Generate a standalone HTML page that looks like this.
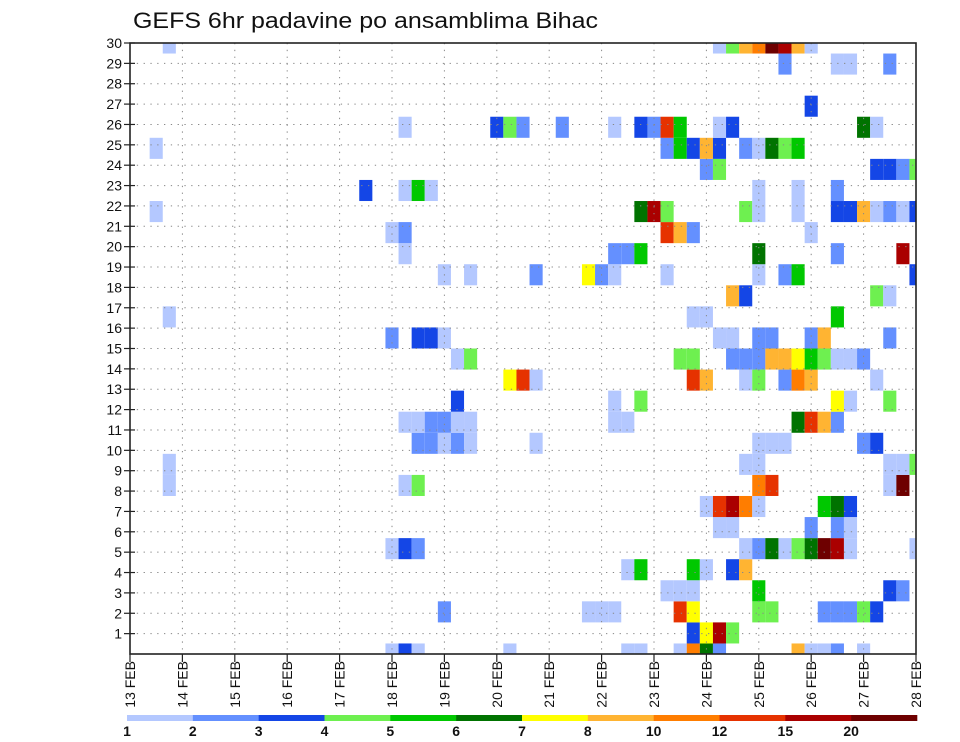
<!DOCTYPE html>
<html><head><meta charset="utf-8"><style>
html,body{margin:0;padding:0;background:#fff;}
svg{display:block;font-family:"Liberation Sans",sans-serif;}
</style></head><body>
<svg id="chart" width="960" height="742" viewBox="0 0 960 742" xmlns="http://www.w3.org/2000/svg">
<rect x="0" y="0" width="960" height="742" fill="#fff"/>
<text x="133" y="28" font-size="22" textLength="465" lengthAdjust="spacingAndGlyphs" fill="#111">GEFS 6hr padavine po ansamblima Bihac</text>
<g id="cells"></g>
<g id="grid"></g>
<g id="axes"></g>
<g id="legend"></g>
</svg>
<script>
// ---- data ----
const dayLabels = ["13 FEB","14 FEB","15 FEB","16 FEB","17 FEB","18 FEB","19 FEB","20 FEB","21 FEB","22 FEB","23 FEB","24 FEB","25 FEB","26 FEB","27 FEB","28 FEB"];
const memberLabels = [1,2,3,4,5,6,7,8,9,10,11,12,13,14,15,16,17,18,19,20,21,22,23,24,25,26,27,28,29,30];
const legendLabels = ["1","2","3","4","5","6","7","8","10","12","15","20"];
const levelColors = ["#b4c8ff","#6490ff","#1446e6","#6ef050","#00c800","#007300","#ffff00","#ffb432","#ff7d00","#e63200","#aa0000","#6e0000"];
// level codes a..l (a = 1-2 mm ... l = 20+ mm); rows listed from bottom (k=0) to top (k=29)
// each entry: "startTimeIndex:levelCodes"
const memberRows = [
 ["20:aca","29:a","38:aa","42:aifb","51:haab","56:a"],
 ["43:cgkd"],
 ["24:b","35:aaa","42:jg","48:dd","53:bbbdc"],
 ["41:aaa","48:e","58:cb"],
 ["38:ae","43:ea","46:ch"],
 ["20:acb","47:abfadflka","60:a"],
 ["45:aa","52:b","54:ba"],
 ["44:ajkia","53:efc"],
 ["3:a","21:ad","48:ij","58:al"],
 ["3:a","47:aa","58:aad"],
 ["22:bbaba","31:a","48:aaa","56:bc"],
 ["21:aabbaa","37:aa","51:fjhb"],
 ["25:c","37:a","39:d","54:ga","58:d"],
 ["29:gja","43:jh","47:ad","50:bih","57:a"],
 ["25:ad","42:dd","46:bbbhhgedaab"],
 ["20:b","22:cca","45:aa","48:bb","52:bh","58:b"],
 ["3:a","43:aa","54:e"],
 ["46:hc","57:da"],
 ["24:a","26:a","31:b","35:gba","41:a","48:a","50:be","60:c"],
 ["21:a","37:bbe","48:f","54:b","59:k"],
 ["20:ab","41:jhb","52:a"],
 ["2:a","39:fkd","47:da","51:a","54:cchabac"],
 ["18:c","21:aea","48:a","51:a","54:b"],
 ["44:bd","57:ccbd"],
 ["2:a","41:bechc","47:bafde"],
 ["21:a","28:cdb","33:b","37:a","39:cbje","45:ac","56:fa"],
 ["52:c"],
 [],
 ["50:b","54:aa","58:b"],
 ["3:a","45:adhilkha"]
];
// ---- geometry ----
const NS="http://www.w3.org/2000/svg";
const X0=130,X1=916,Y0=43,Y1=654;
const nSteps=60;
const stepW=(X1-X0)/nSteps;
const rowH=(Y1-Y0)/(memberRows.length-1);
const labH=(Y1-Y0)/30;
function xTime(i){return X0+i*stepW;}
function yRow(k){return Y1-k*rowH;}
function yMember(m){return Y1-m*labH;}
function mk(tag,attrs,parent){const e=document.createElementNS(NS,tag);for(const a in attrs)e.setAttribute(a,attrs[a]);parent.appendChild(e);return e;}
const cells=document.getElementById('cells');
memberRows.forEach((runs,k)=>{
  runs.forEach(run=>{
    const [s,codes]=run.split(':');const start=+s;
    for(let j=0;j<codes.length;j++){
      const lvl=codes.charCodeAt(j)-97;
      const i=start+j;
      let xa=Math.max(X0,xTime(i-0.5)),xb=Math.min(X1,xTime(i+0.5));
      let ya=Math.max(Y0,yRow(k)-rowH/2),yb=Math.min(Y1,yRow(k)+rowH/2);
      const r=mk('rect',{x:xa,y:ya,width:xb-xa,height:yb-ya,fill:levelColors[lvl]},cells);
      
      
    }
  });
});
const grid=document.getElementById('grid');
for(let m=1;m<30;m++){
  const l=mk('line',{x1:X0,x2:X1,y1:yMember(m),y2:yMember(m),stroke:'#888','stroke-width':1,'stroke-dasharray':'1.3 5.5'},grid);
  
  
}
for(let d=1;d<dayLabels.length-1;d++){
  const x=xTime(d*4);
  const l=mk('line',{x1:x,x2:x,y1:Y0,y2:Y1,stroke:'#888','stroke-width':1,'stroke-dasharray':'1.3 5.5'},grid);
  
  
}
const axes=document.getElementById('axes');
const frame=mk('rect',{x:X0,y:Y0,width:X1-X0,height:Y1-Y0,fill:'none',stroke:'#222','stroke-width':1.6},axes);


memberLabels.forEach(m=>{
  const y=yMember(m);
  const t=mk('line',{x1:124,x2:135,y1:y,y2:y,stroke:'#222','stroke-width':1.2},axes);
  
  
  const tx=mk('text',{x:122,y:y+5,'font-size':14,'text-anchor':'end',fill:'#111'},axes);
  tx.textContent=m;
  
  
});
dayLabels.forEach((lab,d)=>{
  const x=xTime(d*4);
  const t=mk('line',{x1:x,x2:x,y1:Y1,y2:Y1+8,stroke:'#222','stroke-width':1.2},axes);
  
  
  const tx=mk('text',{x:0,y:0,'font-size':14,'text-anchor':'end',fill:'#111',transform:'translate('+(x+5)+',661) rotate(-90)'},axes);
  tx.textContent=lab;
  
  
});
const legend=document.getElementById('legend');
const LX0=127,LX1=917,segW=(LX1-LX0)/levelColors.length;
levelColors.forEach((c,i)=>{
  const r=mk('rect',{x:LX0+i*segW,y:715,width:segW+0.3,height:6,fill:c},legend);
  
  
});
legendLabels.forEach((lab,i)=>{
  const tx=mk('text',{x:LX0+i*segW,y:736,'font-size':14,'font-weight':'bold','text-anchor':'middle',fill:'#111'},legend);
  tx.textContent=lab;
  
  
});
</script>
</body></html>
